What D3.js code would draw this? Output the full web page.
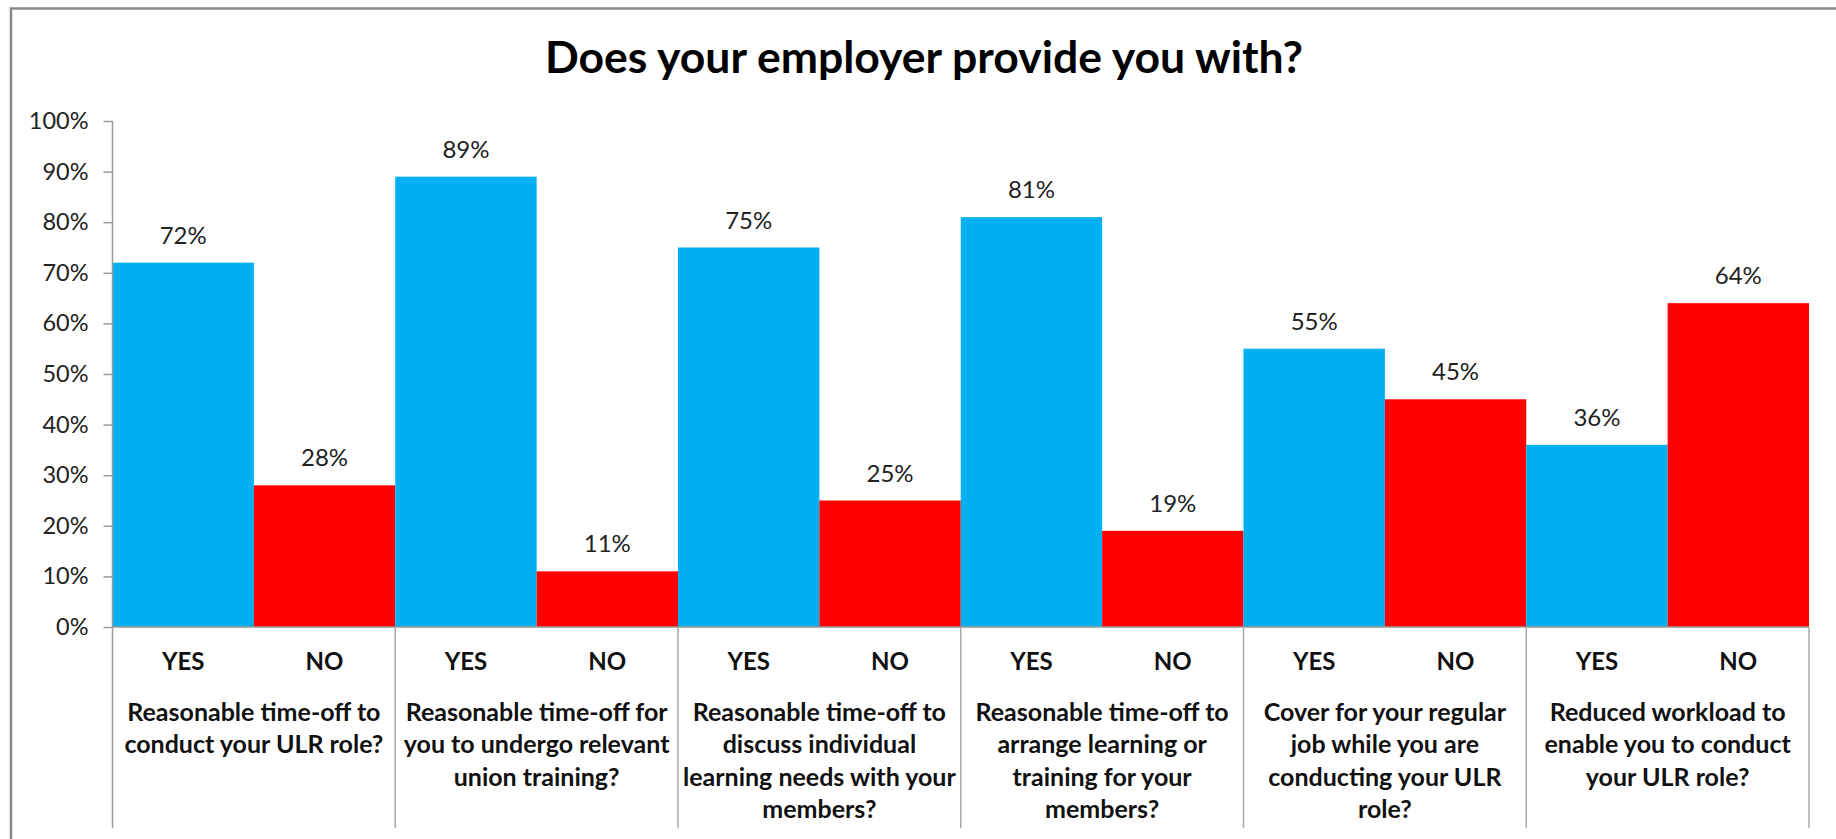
<!DOCTYPE html>
<html>
<head>
<meta charset="utf-8">
<script src="https://cdn.jsdelivr.net/npm/d3@7"></script>
<style>
  html, body { margin: 0; padding: 0; background: #fff; }
  svg { display: block; font-family: Lato, "Open Sans", sans-serif; }
</style>
</head>
<body>
<svg id="chart" width="1836" height="839"></svg>
<script>
// Survey question labels, one line per entry
const questions = [
  ["Reasonable time-off to", "conduct your ULR role?"],
  ["Reasonable time-off for", "you to undergo relevant", "union training?"],
  ["Reasonable time-off to", "discuss individual", "learning needs with your", "members?"],
  ["Reasonable time-off to", "arrange learning or", "training for your", "members?"],
  ["Cover for your regular", "job while you are", "conducting your ULR", "role?"],
  ["Reduced workload to", "enable you to conduct", "your ULR role?"]
];
const answers = ["YES", "NO"];
const yesValues = [0.72, 0.89, 0.75, 0.81, 0.55, 0.36];
const noValues  = [0.28, 0.11, 0.25, 0.19, 0.45, 0.64];
const yTicks = [0, 0.1, 0.2, 0.3, 0.4, 0.5, 0.6, 0.7, 0.8, 0.9, 1.0];
const colors = { YES: "#00B0F0", NO: "#FF0000" };
const title = "Does your employer provide you with?";

const rows = questions.map((q, i) => ({
  id: i, lines: q,
  vals: [{ key: "YES", v: yesValues[i] }, { key: "NO", v: noValues[i] }]
}));

const svg = d3.select("#chart");
const plot = { left: 112.5, right: 1809, top: 121, bottom: 627 };

// outer frame
svg.append("rect")
  .attr("x", 11).attr("y", 8.5)
  .attr("width", 1900).attr("height", 1000)
  .attr("fill", "none").attr("stroke", "#8a8a8a").attr("stroke-width", 2.5);

svg.append("text")
  .attr("x", 924).attr("y", 73)
  .attr("text-anchor", "middle")
  .attr("font-size", 44.5).attr("font-weight", 700).attr("fill", "#000")
  .text(title);

const x0 = d3.scaleBand().domain(rows.map(r => r.id))
  .range([plot.left, plot.right]).padding(0);
const x1 = d3.scaleBand().domain(answers)
  .range([0, x0.bandwidth()]).padding(0);
const y = d3.scaleLinear().domain([0, 1]).range([plot.bottom, plot.top]);

// bars
const groups = svg.selectAll("g.grp").data(rows).join("g")
  .attr("class", "grp")
  .attr("transform", d => `translate(${x0(d.id)},0)`);

groups.selectAll("rect").data(d => d.vals).join("rect")
  .attr("x", d => x1(d.key))
  .attr("y", d => y(d.v))
  .attr("width", x1.bandwidth())
  .attr("height", d => y(0) - y(d.v))
  .attr("fill", d => colors[d.key]);

// value labels
groups.selectAll("text.val").data(d => d.vals).join("text")
  .attr("class", "val")
  .attr("x", d => x1(d.key) + x1.bandwidth() / 2)
  .attr("y", d => y(d.v) - 19)
  .attr("text-anchor", "middle")
  .attr("font-size", 24).attr("fill", "#222")
  .text(d => d3.format(".0%")(d.v));

// y axis
const yAxis = svg.append("g")
  .attr("transform", `translate(${plot.left},0)`)
  .call(d3.axisLeft(y).tickValues(yTicks).tickFormat(d3.format(".0%"))
    .tickSize(9).tickPadding(15));
yAxis.select(".domain").remove();
yAxis.selectAll(".tick line").attr("stroke", "#9a9a9a").attr("stroke-width", 1.5);
yAxis.selectAll(".tick text")
  .attr("font-family", "Lato, sans-serif")
  .attr("font-size", 23.5).attr("fill", "#222");

svg.append("line")
  .attr("x1", plot.left).attr("x2", plot.left)
  .attr("y1", plot.top).attr("y2", 828)
  .attr("stroke", "#9a9a9a").attr("stroke-width", 1.5);

// x axis baseline and group separators
svg.append("line")
  .attr("x1", plot.left).attr("x2", plot.right)
  .attr("y1", plot.bottom).attr("y2", plot.bottom)
  .attr("stroke", "#9a9a9a").attr("stroke-width", 1.5);

svg.selectAll("line.sep").data(rows).join("line")
  .attr("class", "sep")
  .attr("x1", d => x0(d.id) + x0.bandwidth())
  .attr("x2", d => x0(d.id) + x0.bandwidth())
  .attr("y1", plot.bottom).attr("y2", 828)
  .attr("stroke", "#a8a8a8").attr("stroke-width", 1.5);

// YES / NO labels
groups.selectAll("text.ans").data(answers).join("text")
  .attr("class", "ans")
  .attr("x", d => x1(d) + x1.bandwidth() / 2)
  .attr("y", 670)
  .attr("text-anchor", "middle")
  .attr("font-size", 24).attr("font-weight", 700).attr("fill", "#111")
  .text(d => d);

// question labels
groups.append("text")
  .attr("text-anchor", "middle")
  .attr("font-size", 25).attr("font-weight", 700).attr("fill", "#111")
  .selectAll("tspan").data(d => d.lines).join("tspan")
  .attr("x", x0.bandwidth() / 2)
  .attr("y", (d, i) => 721 + i * 32.4)
  .text(d => d);
</script>
</body>
</html>
